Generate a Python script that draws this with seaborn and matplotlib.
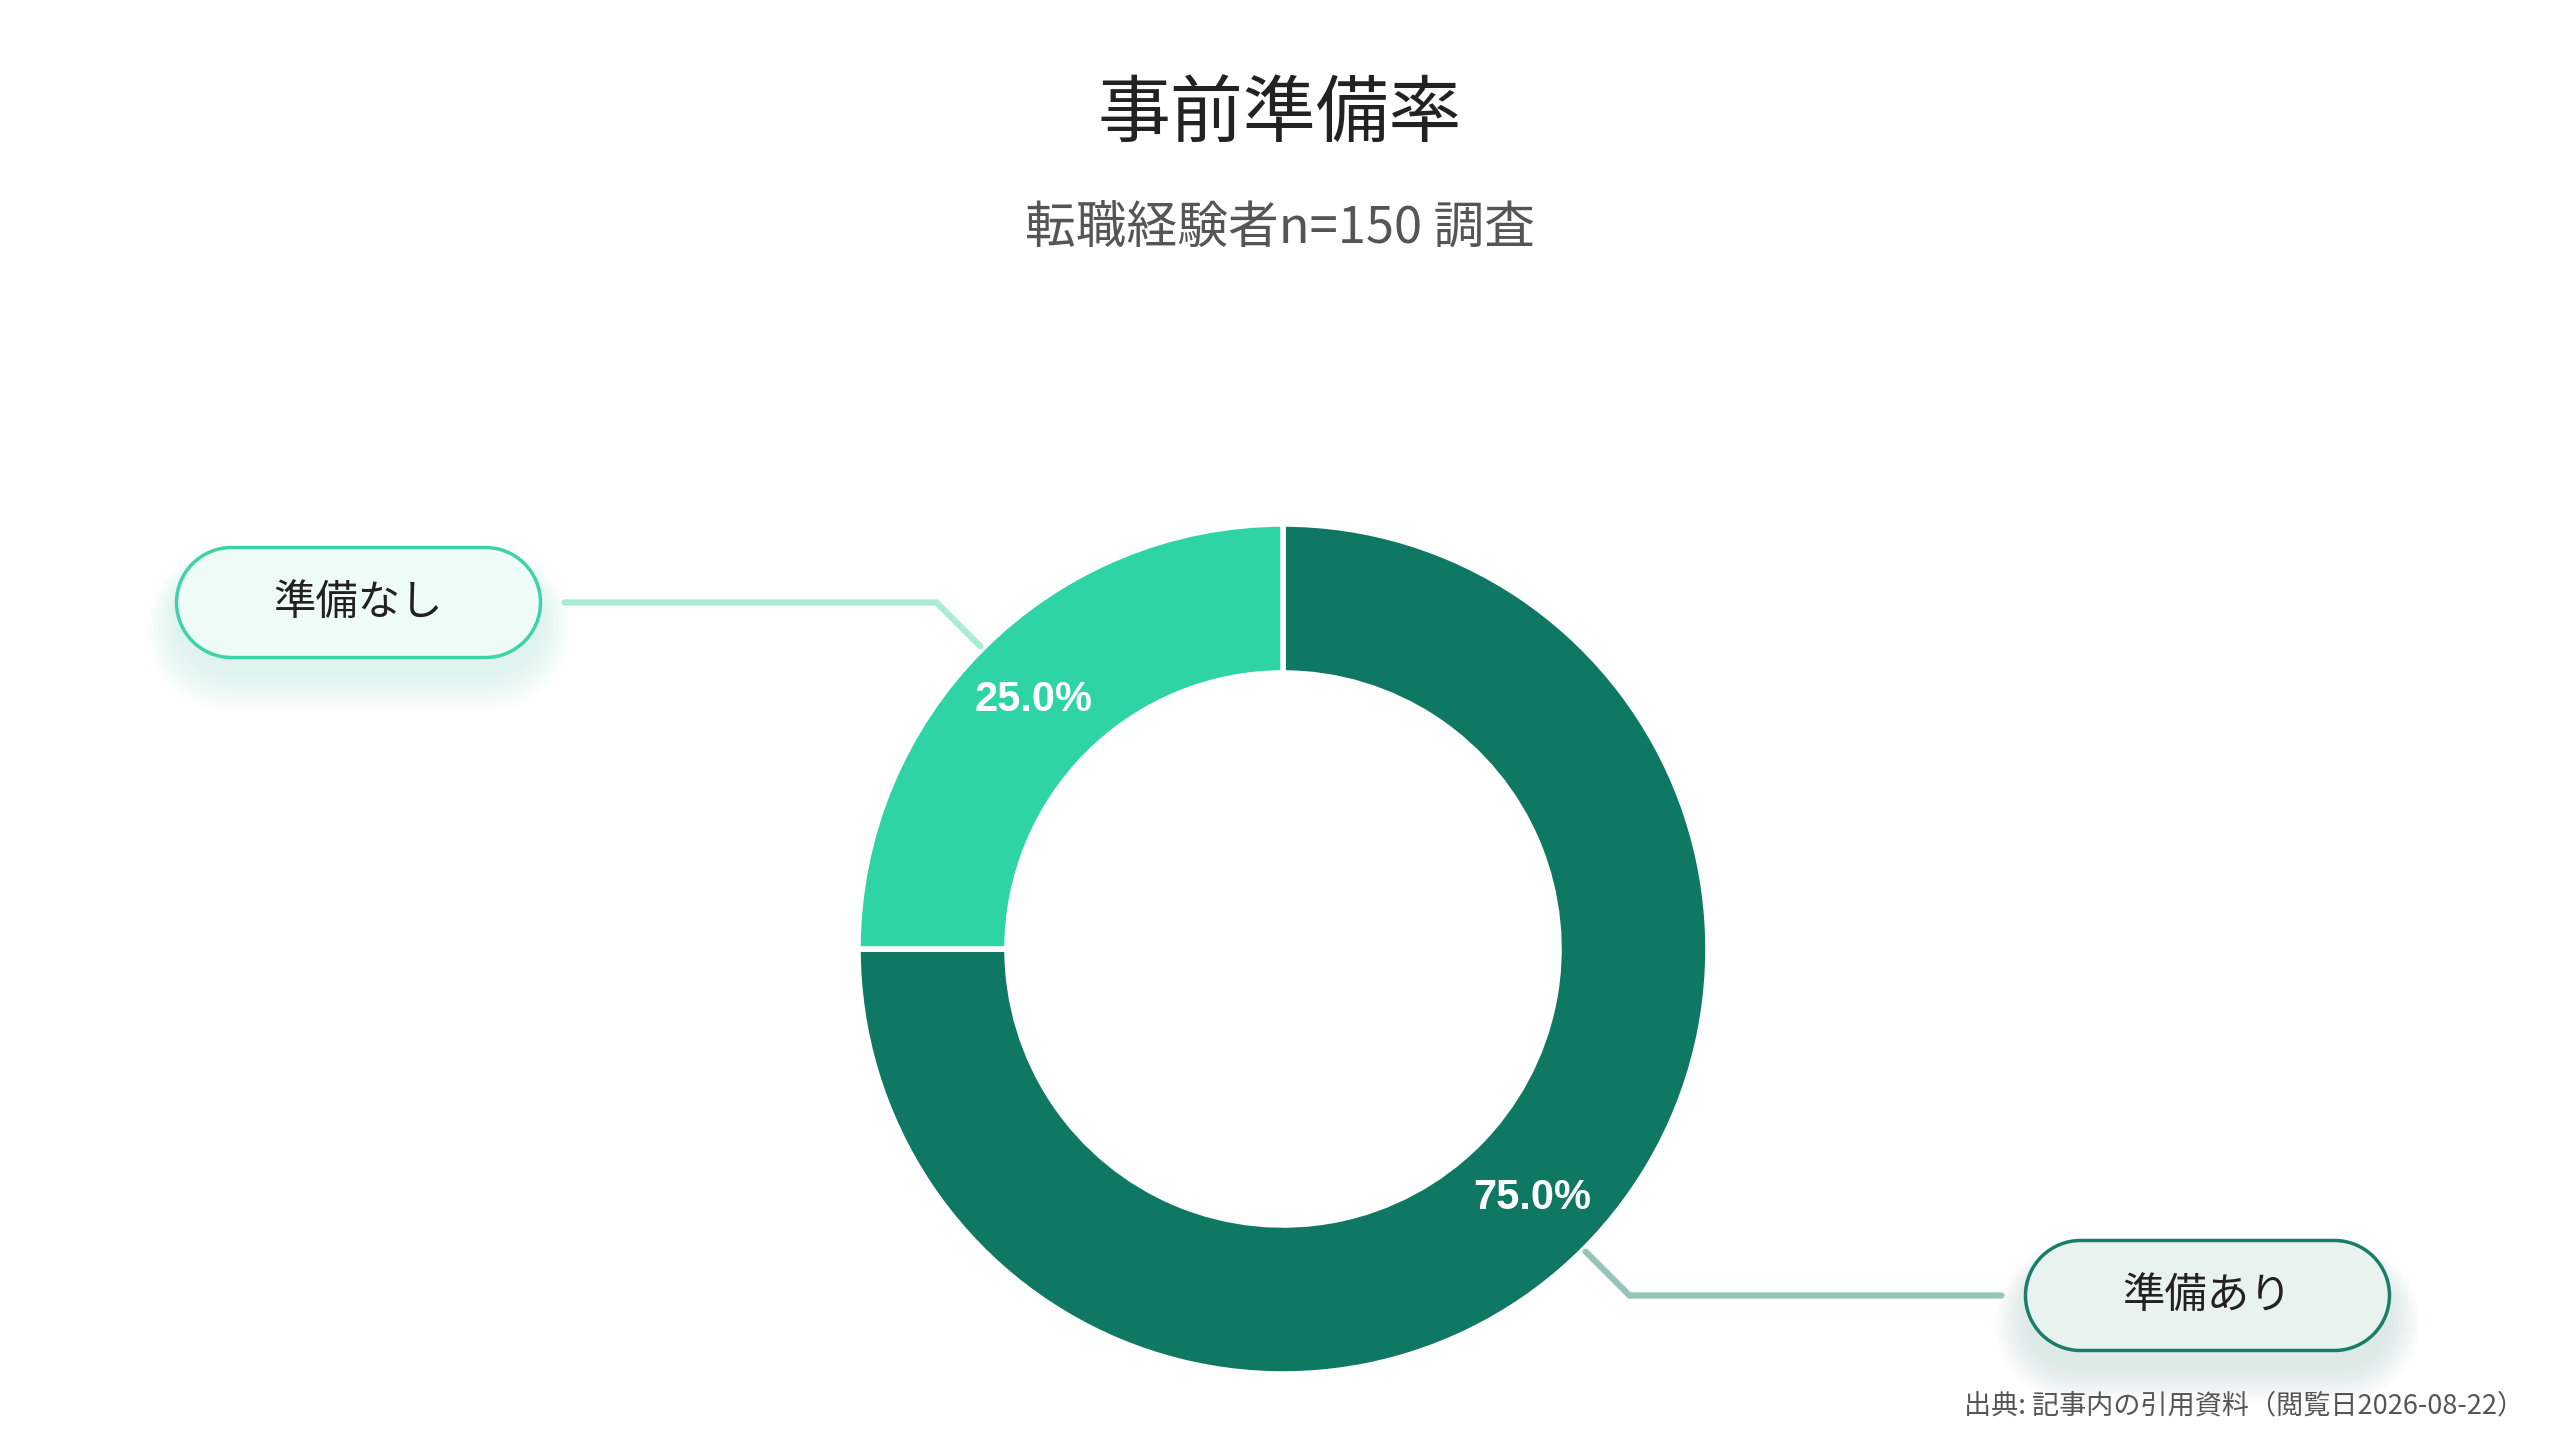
import numpy as np
import matplotlib
matplotlib.use("Agg")
import matplotlib.pyplot as plt
import seaborn as sns
from matplotlib.path import Path
from matplotlib.patches import PathPatch

# data
labels = ["準備あり", "準備なし"]
values = [75.0, 25.0]
colors = ["#0f7863", "#2ed3a6"]
title = "事前準備率"
subtitle = "転職経験者n=150 調査"
source = "出典: 記事内の引用資料（閲覧日2026-08-22）"

sns.set_theme(style="white")
plt.rcParams['font.family'] = ['Noto Sans CJK JP', 'DejaVu Sans']

W, H = 2560, 1440
fig = plt.figure(figsize=(25.6, 14.4), dpi=100)
ax = fig.add_axes([0, 0, 1, 1])
ax.axis("off")

cx, cy = 1283, H - 949
R = 425
width = 149


def pill(x0, y0, w, h):
    r = h / 2
    right = Path.arc(-90, 90)
    left = Path.arc(90, 270)
    v = np.vstack([right.vertices * r + [x0 + w - r, y0 + r],
                   left.vertices * r + [x0 + r, y0 + r]])
    codes = [Path.MOVETO] + [Path.CURVE4] * (len(right.vertices) - 1)
    codes += [Path.LINETO] + [Path.CURVE4] * (len(left.vertices) - 1)
    v = np.vstack([v, v[:1]])
    codes += [Path.CLOSEPOLY]
    return Path(v, codes)


wedges, _, autotexts = ax.pie(values, colors=colors, startangle=90, counterclock=False,
                              center=(cx, cy), radius=R, autopct="%.1f%%", pctdistance=0.83,
                              wedgeprops=dict(width=width, edgecolor="white", linewidth=4),
                              textprops=dict(color="white", fontsize=30, fontweight="bold",
                                             family=["Liberation Sans", "DejaVu Sans"]))
ax.set_xlim(0, W)
ax.set_ylim(0, H)
ax.set_aspect("equal")

# callouts
box_w, box_h = 364, 110
styles = {
    "準備あり": dict(edge="#1a7d68", face="#e8f3f0", line="#94c6b8", glow="#b9d6ce"),
    "準備なし": dict(edge="#3fd2a8", face="#effbf7", line="#a8ecd6", glow="#bff0e0"),
}
for w, lab in zip(wedges, labels):
    ang = np.deg2rad((w.theta1 + w.theta2) / 2)
    st = styles[lab]
    p0 = (cx + 428 * np.cos(ang), cy + 428 * np.sin(ang))
    p1 = (cx + 490 * np.cos(ang), cy + 490 * np.sin(ang))
    side = 1 if np.cos(ang) > 0 else -1
    p2 = (p1[0] + side * 372, p1[1])
    ax.plot([p0[0], p1[0], p2[0]], [p0[1], p1[1], p2[1]], color=st["line"], lw=4.5,
            solid_joinstyle="miter", zorder=1)
    bx = p2[0] + side * 24 + (box_w / 2) * side
    by = p2[1]
    # soft glow below the pill
    for k in range(12, 0, -1):
        g = PathPatch(pill(bx - box_w / 2 - k * 2.5, by - box_h / 2 - 16 - k * 3,
                           box_w + k * 5, box_h + k * 4),
                      facecolor=st["glow"], edgecolor="none", alpha=0.045, zorder=2)
        ax.add_patch(g)
    b = PathPatch(pill(bx - box_w / 2, by - box_h / 2, box_w, box_h),
                  facecolor=st["face"], edgecolor=st["edge"], linewidth=2.5, zorder=3)
    ax.add_patch(b)
    ax.text(bx, by, lab, ha="center", va="center", fontsize=30.5, color="#222222", zorder=4)

fig.text(0.5, 1 - 115 / H, title, ha="center", va="center", fontsize=52.5, color="#222222")
fig.text(0.5, 1 - 230 / H, subtitle, ha="center", va="center", fontsize=36.5, color="#555555")
fig.text(1 - 36 / W, 1 - 1406 / H, source, ha="right", va="center", fontsize=19.5, color="#555555")

fig.savefig("out.png", dpi=100, facecolor="white")
